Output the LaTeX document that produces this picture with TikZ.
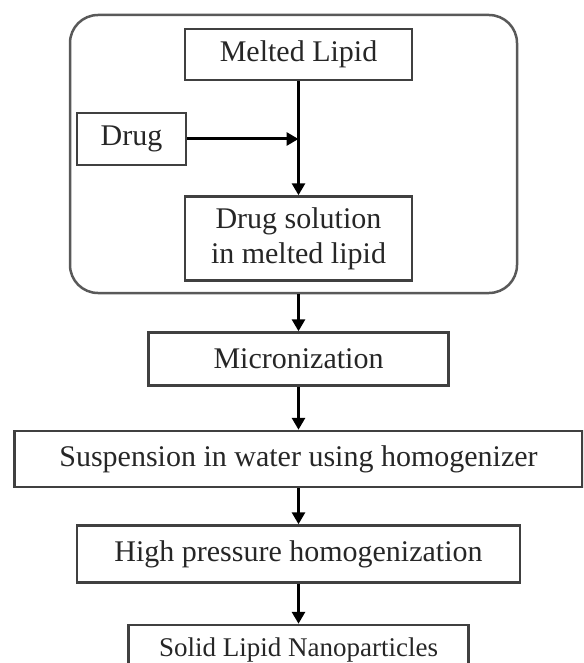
\documentclass[tikz,border=0pt]{standalone}
\usepackage{fontspec}
\setmainfont{Liberation Serif}
\usetikzlibrary{arrows.meta,positioning,fit}

\tikzset{
  stepbox/.style={draw=black!75, line width=2.5pt, inner sep=0pt, minimum height=53pt,
    text=black!85, font=\fontsize{30}{35}\selectfont, align=center},
  flow/.style={line width=3pt, -{Triangle[length=12pt,width=13pt]}},
  frame/.style={draw=black!65, line width=2.5pt, rounded corners=28pt, inner sep=0pt}
}

\begin{document}
\begin{tikzpicture}[x=1pt,y=1pt]
    \clip (0,0) rectangle (583,-663);
    \useasboundingbox (0,0) rectangle (583,-663);

    % inside the rounded frame
    \node[stepbox, minimum width=227pt, minimum height=51pt] (melted) at (298.5,-54.5) {Melted Lipid};
    \node[stepbox, minimum width=227pt, minimum height=84pt, below=114pt of melted] (solution) {Drug solution\\in melted lipid};
    \node[stepbox, minimum width=109pt, minimum height=52pt] (drug) at (131.5,-139) {Drug};
    \coordinate (tl) at (70,-15);
    \coordinate (br) at (517,-293);
    \node[frame, fit=(tl)(br)] (outer) {};
    \coordinate (junc) at (melted.south |- drug.east);
    \coordinate (obot) at (solution.south |- outer.south);

    % process chain
    \node[stepbox, minimum width=300pt, below=37pt of obot] (micro) {Micronization};
    \node[stepbox, minimum width=568pt, minimum height=56pt, below=43pt of micro] (susp) {Suspension in water using homogenizer};
    \node[stepbox, minimum width=443pt, minimum height=57pt, below=36pt of susp] (hph) {High pressure homogenization};
    \node[stepbox, minimum width=340pt, minimum height=50pt, below=40pt of hph,
      font=\fontsize{27}{32}\selectfont] (sln) {Solid Lipid Nanoparticles};

    \draw[flow] (melted) -- (solution);
    \draw[flow] (drug) -- (junc);
    \draw[flow] (obot) -- (micro);
    \draw[flow] (micro) -- (susp);
    \draw[flow] (susp) -- (hph);
    \draw[flow] (hph) -- (sln);
\end{tikzpicture}
\end{document}
